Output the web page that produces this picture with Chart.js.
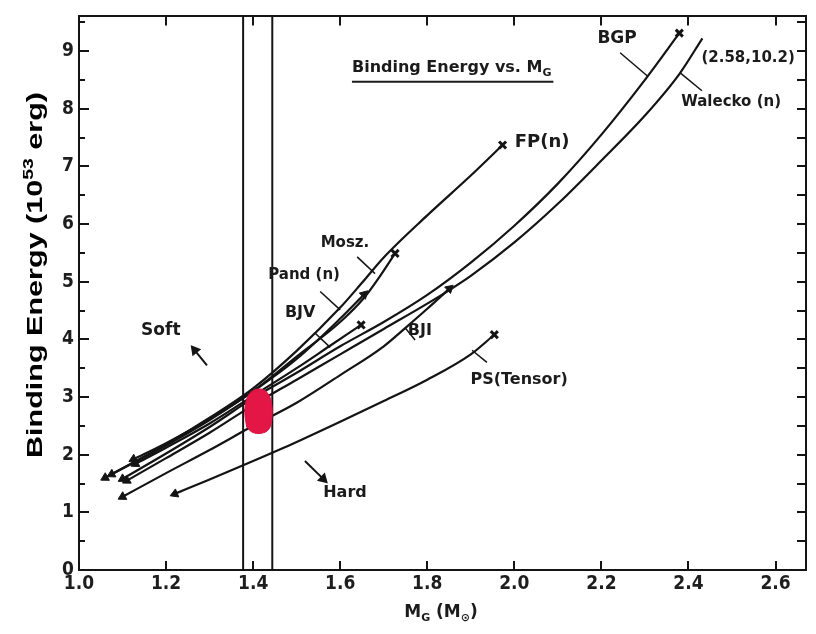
<!DOCTYPE html>
<html>
<head>
<meta charset="utf-8">
<script src="https://cdn.jsdelivr.net/npm/chart.js@4.4.0/dist/chart.umd.min.js"></script>
<style>
  html, body { margin: 0; padding: 0; background: #fff; }
  #wrap { width: 816px; height: 634px; }
</style>
</head>
<body>
<div id="wrap"><canvas id="ChartBE" width="816" height="634"></canvas></div>
<script>
(function () {
  "use strict";

  // Axes
  const xTicks     = [1.0, 1.2, 1.4, 1.6, 1.8, 2.0, 2.2, 2.4, 2.6];
  const yTicks     = [0, 1, 2, 3, 4, 5, 6, 7, 8, 9];
  const yHalfTicks = [0.5, 1.5, 2.5, 3.5, 4.5, 5.5, 6.5, 7.5, 8.5, 9.5];
  const xRange     = [1.0, 2.67];
  const yRange     = [0, 9.6];

  // Mass band (vertical lines) and the red allowed region
  const massBand  = [1.377, 1.444];
  const redRegion = [[1.385, 2.48], [1.381, 2.75], [1.386, 2.98], [1.398, 3.10], [1.415, 3.14],
                     [1.432, 3.08], [1.442, 2.90], [1.443, 2.62], [1.436, 2.44], [1.418, 2.37],
                     [1.398, 2.39], [1.385, 2.48]];

  // Binding energy curves, [M_G, BE]
  const curveFP      = [[1.06, 1.60], [1.2, 2.18], [1.3, 2.64], [1.4, 3.15], [1.5, 3.80], [1.6, 4.55],
                        [1.65, 4.98], [1.7, 5.42], [1.8, 6.15], [1.9, 6.84], [1.973, 7.37]];
  const curveMosz    = [[1.075, 1.66], [1.2, 2.16], [1.3, 2.60], [1.4, 3.10], [1.5, 3.70], [1.6, 4.30],
                        [1.655, 4.72], [1.69, 5.08], [1.726, 5.49]];
  const curvePand    = [[1.125, 1.92], [1.2, 2.20], [1.3, 2.62], [1.4, 3.10], [1.5, 3.66], [1.6, 4.36],
                        [1.655, 4.78]];
  const curveBJV     = [[1.13, 1.84], [1.2, 2.12], [1.3, 2.54], [1.4, 3.02], [1.5, 3.50], [1.575, 3.88],
                        [1.648, 4.25]];
  const curveBGP     = [[1.10, 1.58], [1.2, 2.02], [1.3, 2.48], [1.4, 2.98], [1.5, 3.42], [1.6, 3.88],
                        [1.7, 4.30], [1.8, 4.77], [1.9, 5.33], [2.0, 5.97], [2.1, 6.70], [2.2, 7.55],
                        [2.3, 8.50], [2.379, 9.31]];
  const curveWalecko = [[1.11, 1.55], [1.2, 1.94], [1.3, 2.38], [1.4, 2.86], [1.5, 3.30], [1.6, 3.74],
                        [1.7, 4.18], [1.8, 4.62], [1.85, 4.85], [1.9, 5.10], [2.0, 5.68], [2.1, 6.35],
                        [2.2, 7.10], [2.3, 7.88], [2.379, 8.60], [2.432, 9.22]];
  const curveBJI     = [[1.10, 1.27], [1.2, 1.68], [1.3, 2.08], [1.4, 2.50], [1.5, 2.90], [1.6, 3.38],
                        [1.7, 3.88], [1.75, 4.20], [1.8, 4.53], [1.851, 4.88]];
  const curvePS      = [[1.22, 1.32], [1.3, 1.57], [1.4, 1.89], [1.5, 2.22], [1.6, 2.57], [1.7, 2.93],
                        [1.8, 3.30], [1.9, 3.74], [1.954, 4.08]];

  // Label leader lines and the soft / hard arrows
  const leaderBGP     = [[2.243, 8.97], [2.305, 8.57]];
  const leaderWalecko = [[2.381, 8.62], [2.431, 8.31]];
  const leaderMosz    = [[1.639, 5.43], [1.680, 5.14]];
  const leaderPand    = [[1.554, 4.83], [1.600, 4.51]];
  const leaderBJV     = [[1.542, 4.11], [1.577, 3.86]];
  const leaderBJI     = [[1.772, 3.99], [1.749, 4.20]];
  const leaderPS      = [[1.937, 3.60], [1.903, 3.81]];
  const arrowSoft     = [[1.294, 3.55], [1.266, 3.81]];
  const arrowHard     = [[1.519, 1.89], [1.561, 1.58]];

  // Annotations
  const noteText = ['BGP', '(2.58,10.2)', 'Walecko (n)', 'FP(n)', 'Mosz.', 'Pand (n)', 'BJ\u2164', 'BJ\u2160', 'PS(Tensor)', 'Soft', 'Hard'];
  const noteX    = [2.236, 2.537, 2.498, 2.064, 1.611, 1.517, 1.508, 1.783, 2.011, 1.188, 1.611];
  const noteY    = [9.21, 8.88, 8.11, 7.41, 5.66, 5.11, 4.46, 4.15, 3.29, 4.15, 1.34];

  const ink = '#141414';
  const toXY = (pts) => pts.map(p => ({x: p[0], y: p[1]}));

  // direction of the arrow at a point, in screen degrees (0 = up)
  function arrowAngle(c) {
    const d = c.dataset.data;
    const sx = c.chart.scales.x, sy = c.chart.scales.y;
    const i = c.dataIndex;
    const a = i === 0 ? d[1] : d[i - 1];
    const b = d[i];
    const dx = sx.getPixelForValue(b.x) - sx.getPixelForValue(a.x);
    const dy = sy.getPixelForValue(b.y) - sy.getPixelForValue(a.y);
    return Math.atan2(dx, -dy) * 180 / Math.PI;
  }

  function curve(pts, startMark, endMark, width) {
    const n = pts.length;
    const mark = (i) => i === 0 ? startMark : (i === n - 1 ? endMark : null);
    return {
      data: toXY(pts),
      showLine: true,
      borderColor: ink,
      borderWidth: width || 2.2,
      backgroundColor: ink,
      tension: 0.4,
      cubicInterpolationMode: 'monotone',
      pointStyle: pts.map((p, i) => mark(i) === 'x' ? 'crossRot' : 'triangle'),
      pointRadius: pts.map((p, i) => mark(i) === 'arrow' ? 5 : (mark(i) === 'x' ? 5 : 0)),
      pointBorderWidth: pts.map((p, i) => mark(i) === 'x' ? 3 : 1),
      pointBackgroundColor: ink,
      pointBorderColor: ink,
      pointRotation: (c) => (c.type !== 'data' || mark(c.dataIndex) === 'x') ? 0 : arrowAngle(c),
      order: 2
    };
  }

  function straight(pts, width, endArrow) {
    return {
      data: toXY(pts),
      showLine: true,
      borderColor: ink,
      borderWidth: width,
      tension: 0,
      pointStyle: 'triangle',
      pointRadius: pts.map((p, i) => endArrow && i === pts.length - 1 ? 4.5 : 0),
      pointBackgroundColor: ink,
      pointBorderColor: ink,
      pointRotation: (c) => c.type === 'data' ? arrowAngle(c) : 0,
      order: 2
    };
  }

  const datasets = [
    {
      data: toXY(redRegion),
      showLine: true,
      fill: 'shape',
      backgroundColor: 'rgb(228, 22, 70)',
      borderColor: 'rgb(214, 20, 66)',
      borderWidth: 1,
      tension: 0.4,
      pointRadius: 0,
      order: 1
    },
    straight([[massBand[0], yRange[0]], [massBand[0], yRange[1]]], 2),
    straight([[massBand[1], yRange[0]], [massBand[1], yRange[1]]], 2),
    curve(curveFP, 'arrow', 'x'),
    curve(curveMosz, 'arrow', 'x'),
    curve(curvePand, 'arrow', 'arrow'),
    curve(curveBJV, 'arrow', 'x'),
    curve(curveBGP, 'arrow', 'x'),
    curve(curveWalecko, 'arrow', null),
    curve(curveBJI, 'arrow', 'arrow'),
    curve(curvePS, 'arrow', 'x'),
    straight(leaderBGP, 1.5),
    straight(leaderWalecko, 1.5),
    straight(leaderMosz, 1.5),
    straight(leaderPand, 1.5),
    straight(leaderBJV, 1.5),
    straight(leaderBJI, 1.5),
    straight(leaderPS, 1.5),
    straight(arrowSoft, 2, true),
    straight(arrowHard, 2, true)
  ];

  // inward tick marks on all four sides
  const frameTicks = {
    id: 'frameTicks',
    afterDatasetsDraw(chart) {
      const {ctx, chartArea: a, scales: {x, y}} = chart;
      ctx.save();
      ctx.strokeStyle = ink;
      ctx.lineWidth = 2;
      ctx.beginPath();
      xTicks.forEach(v => {
        const px = Math.round(x.getPixelForValue(v));
        ctx.moveTo(px, a.bottom); ctx.lineTo(px, a.bottom - 9);
        ctx.moveTo(px, a.top);    ctx.lineTo(px, a.top + 9);
      });
      yTicks.forEach(v => {
        const py = Math.round(y.getPixelForValue(v));
        ctx.moveTo(a.left, py);  ctx.lineTo(a.left + 10, py);
        ctx.moveTo(a.right, py); ctx.lineTo(a.right - 9, py);
      });
      yHalfTicks.forEach(v => {
        const py = Math.round(y.getPixelForValue(v));
        if (py < a.top + 2) return;
        ctx.moveTo(a.left, py);  ctx.lineTo(a.left + 6, py);
        ctx.moveTo(a.right, py); ctx.lineTo(a.right - 9, py);
      });
      ctx.stroke();
      ctx.restore();
    }
  };

  // texts: annotations, plot title, axis titles
  const noteFont = [17, 15, 15, 18, 15, 15, 16, 16, 16, 17, 16];
  const annotations = {
    id: 'annotations',
    afterDraw(chart) {
      const {ctx, scales: {x, y}} = chart;
      ctx.save();
      ctx.fillStyle = '#1b1b1b';
      ctx.textBaseline = 'middle';
      ctx.textAlign = 'center';
      noteText.forEach((t, i) => {
        ctx.font = 'bold ' + noteFont[i] + 'px "DejaVu Sans", sans-serif';
        ctx.fillText(t, x.getPixelForValue(noteX[i]), y.getPixelForValue(noteY[i]));
      });

      // "Binding Energy vs. M_G" underlined
      ctx.textAlign = 'left';
      ctx.font = 'bold 16px "DejaVu Sans", sans-serif';
      let tx = x.getPixelForValue(1.627);
      const ty = y.getPixelForValue(8.71);
      const main = 'Binding Energy vs. M';
      ctx.fillText(main, tx, ty);
      tx += ctx.measureText(main).width;
      ctx.font = 'bold 11px "DejaVu Sans", sans-serif';
      ctx.fillText('G', tx, ty + 5);
      tx += ctx.measureText('G').width;
      ctx.strokeStyle = '#1b1b1b';
      ctx.lineWidth = 2;
      ctx.beginPath();
      ctx.moveTo(x.getPixelForValue(1.627), ty + 14);
      ctx.lineTo(tx + 2, ty + 14);
      ctx.stroke();

      // x axis title: M_G (M_sun)
      const xt = [['M', 17, 0], ['G', 11, 5], [' (M', 17, 0], ['\u2299', 11, 5], [')', 17, 0]];
      let w = 0;
      xt.forEach(p => { ctx.font = 'bold ' + p[1] + 'px "DejaVu Sans", sans-serif'; w += ctx.measureText(p[0]).width; });
      let cx = 441 - w / 2;
      xt.forEach(p => {
        ctx.font = 'bold ' + p[1] + 'px "DejaVu Sans", sans-serif';
        ctx.fillText(p[0], cx, 613 + p[2]);
        cx += ctx.measureText(p[0]).width;
      });

      // y axis title, rotated, stretched like the original
      const yt = [['Binding Energy (10', 22, 0], ['53', 14, -9], [' erg)', 22, 0]];
      ctx.textBaseline = 'alphabetic';
      let yw = 0;
      yt.forEach(p => { ctx.font = 'bold ' + p[1] + 'px "Liberation Sans", Arial, sans-serif'; yw += ctx.measureText(p[0]).width; });
      ctx.translate(42, 275);
      ctx.rotate(-Math.PI / 2);
      ctx.scale(366 / yw, 1);
      ctx.fillStyle = '#000';
      let ox = -yw / 2;
      yt.forEach(p => {
        ctx.font = 'bold ' + p[1] + 'px "Liberation Sans", Arial, sans-serif';
        ctx.fillText(p[0], ox, p[2]);
        ox += ctx.measureText(p[0]).width;
      });
      ctx.restore();
    }
  };

  const tickFont = {family: '"DejaVu Sans Condensed", "DejaVu Sans", sans-serif', weight: 'bold', size: 19};
  const frame = {display: true, color: ink, width: 2};

  const chart_be = document.getElementById('ChartBE');
  if (chart_be != null) {
    new Chart(chart_be.getContext('2d'), {
      type: 'scatter',
      data: {datasets: datasets},
      options: {
        responsive: false,
        animation: false,
        events: [],
        layout: {padding: 0},
        plugins: {legend: {display: false}, tooltip: {enabled: false}},
        scales: {
          x: {
            type: 'linear', position: 'bottom', min: xRange[0], max: xRange[1],
            afterBuildTicks: (s) => { s.ticks = xTicks.map(v => ({value: v})); },
            afterFit: (s) => { s.height = 64; },
            ticks: {autoSkip: false, maxRotation: 0, padding: 3, color: '#1e1e1e', font: tickFont,
                    callback: (v) => Number(v).toFixed(1)},
            grid: {display: false, drawTicks: false},
            border: frame
          },
          x2: {
            type: 'linear', position: 'top', min: xRange[0], max: xRange[1],
            afterFit: (s) => { s.height = 10; },
            ticks: {display: false},
            grid: {display: false, drawTicks: false},
            border: frame
          },
          y: {
            type: 'linear', position: 'left', min: yRange[0], max: yRange[1],
            afterBuildTicks: (s) => { s.ticks = yTicks.map(v => ({value: v})); },
            afterFit: (s) => { s.width = 79; },
            ticks: {autoSkip: false, padding: 5, color: '#1e1e1e', font: tickFont,
                    callback: (v) => String(v)},
            grid: {display: false, drawTicks: false},
            border: frame
          },
          y2: {
            type: 'linear', position: 'right', min: yRange[0], max: yRange[1],
            afterFit: (s) => { s.width = 10; },
            ticks: {display: false},
            grid: {display: false, drawTicks: false},
            border: frame
          }
        }
      },
      plugins: [frameTicks, annotations]
    });
  }
})();
</script>
</body>
</html>
